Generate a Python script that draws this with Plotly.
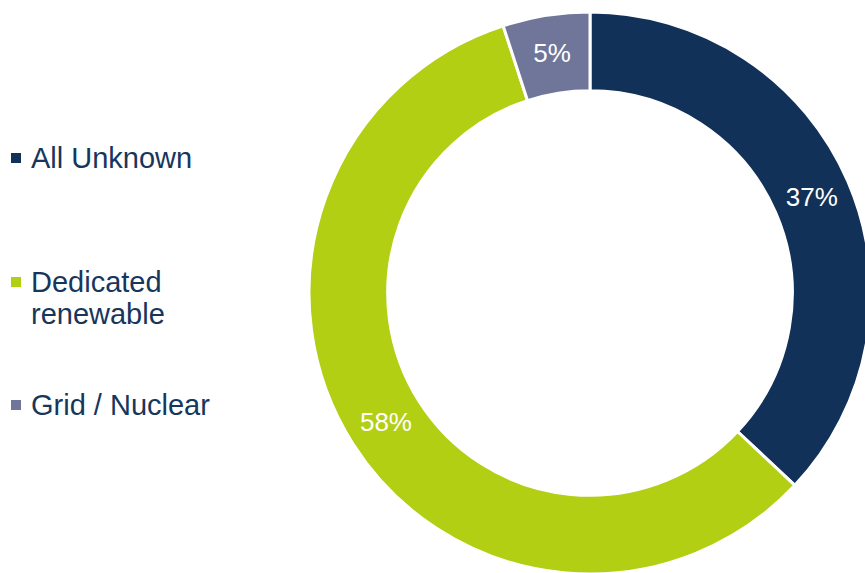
import plotly.graph_objects as go

# Energy source shares
labels = ["All Unknown", "Dedicated renewable", "Grid / Nuclear"]
legend_lines = [["All Unknown"], ["Dedicated", "renewable"], ["Grid / Nuclear"]]
values = [37, 58, 5]
colors = ["#113158", "#B3CF13", "#6F7699"]

# Canvas is a little wider/taller than the view so the ring can run off the edge
W, H = 880, 588
text_color = "#17365C"

# Ring bounding box in pixels (left, right, top, bottom)
ring_l, ring_r, ring_t, ring_b = 309, 871, 12, 574

fig = go.Figure(
    go.Pie(
        labels=labels,
        values=values,
        sort=False,
        direction="clockwise",
        rotation=0,
        hole=0.72,
        marker=dict(colors=colors, line=dict(color="white", width=3)),
        textinfo="percent",
        texttemplate="%{percent:.0%}",
        textposition="inside",
        insidetextorientation="horizontal",
        textfont=dict(family="Liberation Sans, Arial", size=26, color="white"),
        showlegend=False,
        hoverinfo="label+percent",
        domain=dict(x=[ring_l / W, ring_r / W], y=[1 - ring_b / H, 1 - ring_t / H]),
    )
)

# Hand-laid legend on the left: colour square plus label lines
legend_y = [158, 282, 405]
line_gap = 32
shapes = []
annotations = []
for lines, color, yc in zip(legend_lines, colors, legend_y):
    shapes.append(dict(
        type="rect", xref="paper", yref="paper",
        x0=11 / W, x1=21 / W, y0=1 - (yc + 5) / H, y1=1 - (yc - 5) / H,
        fillcolor=color, line=dict(width=0),
    ))
    for i, line in enumerate(lines):
        annotations.append(dict(
            text=line, xref="paper", yref="paper",
            x=29 / W, y=1 - (yc + i * line_gap) / H,
            xanchor="left", yanchor="middle", showarrow=False,
            font=dict(family="Liberation Sans, Arial", size=29, color=text_color),
        ))

fig.update_layout(
    width=W, height=H,
    margin=dict(l=0, r=0, t=0, b=0),
    paper_bgcolor="white",
    plot_bgcolor="white",
    shapes=shapes,
    annotations=annotations,
)

fig.write_html("out.html")
